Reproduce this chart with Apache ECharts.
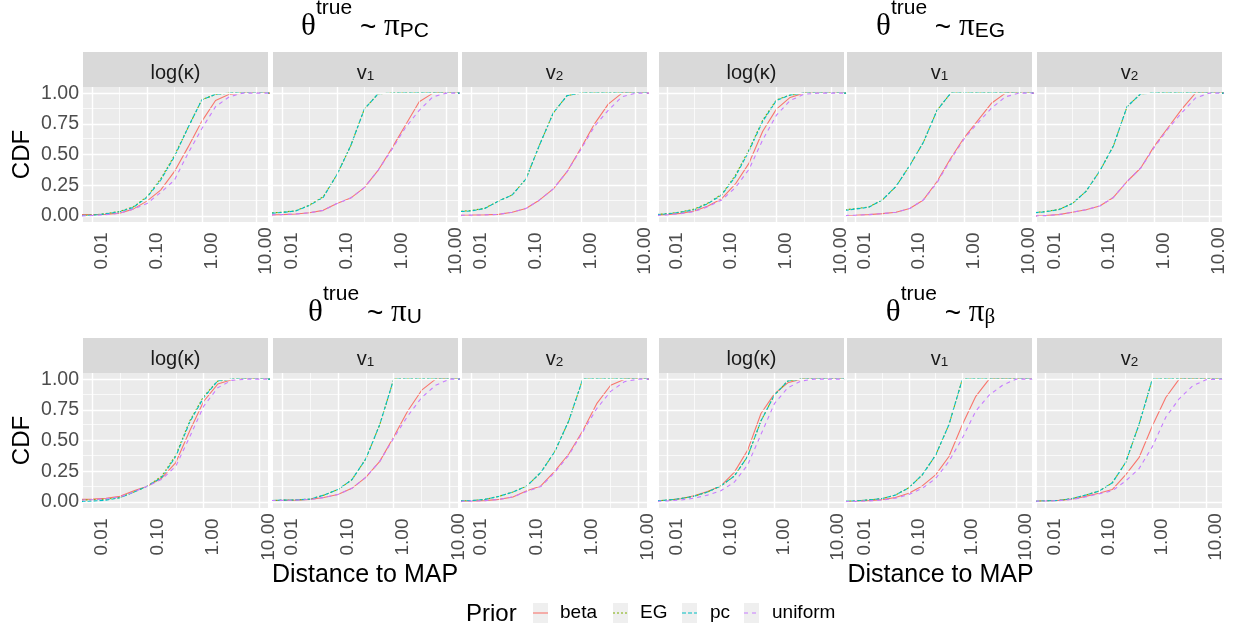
<!DOCTYPE html>
<html><head><meta charset="utf-8">
<script src="https://cdn.jsdelivr.net/npm/echarts@6/dist/echarts.min.js"></script>
<style>html,body{margin:0;padding:0;background:#fff}#c{width:1234px;height:628px}</style>
</head><body><div id="c"></div><script>
// ---- data: distance grid (x) and CDF values per panel / prior ----
const distance = [0.0065, 0.01, 0.0178, 0.0316, 0.0562, 0.1, 0.178, 0.316, 0.562, 1, 1.78, 3.16, 5.62, 10, 20];
const priors = ['beta', 'EG', 'pc', 'uniform'];
const paramLabels = ['log(κ)', 'v1', 'v2'];
const xTickValues = [0.01, 0.1, 1, 10];
const yTickValues = [0, 0.25, 0.5, 0.75, 1];

// theta_true ~ pi_PC
const truePC_logk_beta    = [0.01, 0.01, 0.012, 0.022, 0.055, 0.12, 0.21, 0.36, 0.56, 0.77, 0.94, 0.99, 1, 1, 1];
const truePC_logk_EG      = [0.003, 0.006, 0.018, 0.036, 0.072, 0.155, 0.30, 0.49, 0.72, 0.945, 0.99, 1, 1, 1, 1];
const truePC_logk_pc      = [0.003, 0.005, 0.016, 0.033, 0.068, 0.15, 0.29, 0.48, 0.72, 0.945, 0.99, 1, 1, 1, 1];
const truePC_logk_uniform = [0.0, 0.003, 0.01, 0.02, 0.055, 0.10, 0.19, 0.29, 0.51, 0.71, 0.89, 0.97, 1, 1, 1];
const truePC_v1_beta      = [0.008, 0.01, 0.015, 0.025, 0.045, 0.10, 0.145, 0.23, 0.37, 0.55, 0.74, 0.93, 1, 1, 1];
const truePC_v1_EG        = [0.025, 0.029, 0.042, 0.088, 0.155, 0.335, 0.57, 0.87, 0.995, 1, 1, 1, 1, 1, 1];
const truePC_v1_pc        = [0.022, 0.027, 0.04, 0.085, 0.15, 0.335, 0.57, 0.87, 0.995, 1, 1, 1, 1, 1, 1];
const truePC_v1_uniform   = [0.008, 0.01, 0.015, 0.025, 0.045, 0.10, 0.145, 0.23, 0.37, 0.54, 0.72, 0.86, 0.97, 1, 1];
const truePC_v2_beta      = [0.005, 0.006, 0.008, 0.012, 0.03, 0.06, 0.13, 0.22, 0.36, 0.55, 0.75, 0.91, 1, 1, 1];
const truePC_v2_EG        = [0.038, 0.043, 0.062, 0.12, 0.17, 0.30, 0.58, 0.84, 0.98, 1, 1, 1, 1, 1, 1];
const truePC_v2_pc        = [0.035, 0.04, 0.06, 0.12, 0.17, 0.30, 0.58, 0.84, 0.98, 1, 1, 1, 1, 1, 1];
const truePC_v2_uniform   = [0.005, 0.006, 0.008, 0.012, 0.03, 0.06, 0.13, 0.22, 0.36, 0.54, 0.73, 0.86, 0.97, 1, 1];

// theta_true ~ pi_EG
const trueEG_logk_beta    = [0.005, 0.01, 0.02, 0.04, 0.08, 0.14, 0.26, 0.43, 0.69, 0.87, 0.965, 1, 1, 1, 1];
const trueEG_logk_EG      = [0.012, 0.018, 0.032, 0.055, 0.105, 0.175, 0.33, 0.54, 0.78, 0.945, 0.985, 1, 1, 1, 1];
const trueEG_logk_pc      = [0.01, 0.016, 0.03, 0.05, 0.10, 0.17, 0.32, 0.53, 0.77, 0.94, 0.985, 1, 1, 1, 1];
const trueEG_logk_uniform = [0.003, 0.008, 0.018, 0.035, 0.075, 0.13, 0.23, 0.38, 0.62, 0.82, 0.94, 0.99, 1, 1, 1];
const trueEG_v1_beta      = [0.003, 0.005, 0.01, 0.018, 0.03, 0.06, 0.13, 0.28, 0.47, 0.64, 0.78, 0.92, 1, 1, 1];
const trueEG_v1_EG        = [0.05, 0.058, 0.072, 0.13, 0.24, 0.41, 0.60, 0.86, 1, 1, 1, 1, 1, 1, 1];
const trueEG_v1_pc        = [0.045, 0.055, 0.07, 0.13, 0.24, 0.41, 0.60, 0.86, 1, 1, 1, 1, 1, 1, 1];
const trueEG_v1_uniform   = [0.003, 0.005, 0.01, 0.018, 0.03, 0.06, 0.13, 0.27, 0.46, 0.63, 0.76, 0.88, 0.97, 1, 1];
const trueEG_v2_beta      = [0.0, 0.002, 0.01, 0.03, 0.05, 0.08, 0.15, 0.28, 0.39, 0.57, 0.72, 0.87, 1, 1, 1];
const trueEG_v2_EG        = [0.027, 0.035, 0.052, 0.10, 0.20, 0.365, 0.57, 0.89, 0.995, 1, 1, 1, 1, 1, 1];
const trueEG_v2_pc        = [0.025, 0.033, 0.05, 0.10, 0.20, 0.365, 0.57, 0.89, 0.995, 1, 1, 1, 1, 1, 1];
const trueEG_v2_uniform   = [0.0, 0.002, 0.01, 0.03, 0.05, 0.08, 0.15, 0.28, 0.39, 0.56, 0.71, 0.84, 0.96, 1, 1];

// theta_true ~ pi_U
const trueU_logk_beta     = [0.02, 0.022, 0.03, 0.045, 0.09, 0.13, 0.195, 0.32, 0.58, 0.82, 0.96, 0.995, 1, 1, 1];
const trueU_logk_EG       = [0.015, 0.017, 0.022, 0.035, 0.08, 0.13, 0.21, 0.38, 0.66, 0.86, 0.985, 1, 1, 1, 1];
const trueU_logk_pc       = [0.003, 0.005, 0.014, 0.033, 0.08, 0.13, 0.20, 0.37, 0.65, 0.85, 0.986, 1, 1, 1, 1];
const trueU_logk_uniform  = [0.015, 0.017, 0.025, 0.04, 0.08, 0.13, 0.185, 0.29, 0.53, 0.78, 0.93, 0.99, 1, 1, 1];
const trueU_v1_beta       = [0.011, 0.012, 0.014, 0.02, 0.035, 0.06, 0.11, 0.20, 0.33, 0.53, 0.74, 0.91, 1, 1, 1];
const trueU_v1_EG         = [0.011, 0.014, 0.016, 0.022, 0.055, 0.10, 0.18, 0.35, 0.63, 1, 1, 1, 1, 1, 1];
const trueU_v1_pc         = [0.011, 0.014, 0.016, 0.022, 0.055, 0.10, 0.18, 0.35, 0.63, 1, 1, 1, 1, 1, 1];
const trueU_v1_uniform    = [0.011, 0.012, 0.014, 0.02, 0.035, 0.06, 0.11, 0.20, 0.33, 0.52, 0.70, 0.85, 0.95, 1, 1];
const trueU_v2_beta       = [0.005, 0.006, 0.01, 0.02, 0.04, 0.09, 0.13, 0.25, 0.39, 0.58, 0.80, 0.95, 1, 1, 1];
const trueU_v2_EG         = [0.008, 0.01, 0.02, 0.045, 0.08, 0.13, 0.24, 0.41, 0.66, 1, 1, 1, 1, 1, 1];
const trueU_v2_pc         = [0.008, 0.01, 0.02, 0.045, 0.08, 0.13, 0.24, 0.41, 0.66, 1, 1, 1, 1, 1, 1];
const trueU_v2_uniform    = [0.005, 0.006, 0.01, 0.02, 0.04, 0.085, 0.125, 0.24, 0.38, 0.57, 0.76, 0.90, 0.98, 1, 1];

// theta_true ~ pi_beta
const trueB_logk_beta     = [0.01, 0.013, 0.025, 0.05, 0.085, 0.13, 0.24, 0.42, 0.72, 0.88, 0.97, 1, 1, 1, 1];
const trueB_logk_EG       = [0.01, 0.014, 0.027, 0.046, 0.08, 0.13, 0.21, 0.37, 0.66, 0.87, 0.985, 1, 1, 1, 1];
const trueB_logk_pc       = [0.01, 0.014, 0.027, 0.046, 0.08, 0.13, 0.21, 0.37, 0.66, 0.87, 0.985, 1, 1, 1, 1];
const trueB_logk_uniform  = [0.005, 0.008, 0.015, 0.03, 0.055, 0.09, 0.16, 0.30, 0.55, 0.80, 0.93, 0.985, 1, 1, 1];
const trueB_v1_beta       = [0.003, 0.005, 0.01, 0.018, 0.035, 0.07, 0.13, 0.22, 0.37, 0.63, 0.86, 1, 1, 1, 1];
const trueB_v1_EG         = [0.005, 0.008, 0.016, 0.027, 0.055, 0.115, 0.22, 0.38, 0.63, 1, 1, 1, 1, 1, 1];
const trueB_v1_pc         = [0.005, 0.008, 0.016, 0.027, 0.055, 0.115, 0.22, 0.38, 0.63, 1, 1, 1, 1, 1, 1];
const trueB_v1_uniform    = [0.003, 0.004, 0.008, 0.015, 0.03, 0.06, 0.11, 0.19, 0.33, 0.52, 0.74, 0.87, 0.95, 1, 1];
const trueB_v2_beta       = [0.005, 0.008, 0.012, 0.022, 0.045, 0.07, 0.10, 0.22, 0.36, 0.62, 0.85, 1, 1, 1, 1];
const trueB_v2_EG         = [0.005, 0.008, 0.011, 0.027, 0.055, 0.087, 0.155, 0.32, 0.63, 1, 1, 1, 1, 1, 1];
const trueB_v2_pc         = [0.005, 0.008, 0.011, 0.027, 0.055, 0.087, 0.155, 0.32, 0.63, 1, 1, 1, 1, 1, 1];
const trueB_v2_uniform    = [0.005, 0.007, 0.01, 0.02, 0.04, 0.065, 0.09, 0.17, 0.27, 0.45, 0.69, 0.84, 0.945, 0.995, 1];

// ---- styling / layout ----
const priorColors = {beta: '#F8766D', EG: '#7CAE00', pc: '#00BFC4', uniform: '#C77CFF'};
const priorDash = {beta: 'solid', EG: [2, 2], pc: [4, 2], uniform: [4, 4]};
const colLefts = [83, 273, 462, 659, 847, 1037];
const panelW = 185, panelH = 135, stripH = 35;
const rowTops = [87, 373];
const FONT = 'Liberation Sans, Arial, sans-serif';
const SERIF = 'Liberation Serif, serif';

const groups = [
  {name: 'PC', row: 0, col0: 0, xr: [-2.164, 1.206], sets: [
    [truePC_logk_beta, truePC_logk_EG, truePC_logk_pc, truePC_logk_uniform],
    [truePC_v1_beta, truePC_v1_EG, truePC_v1_pc, truePC_v1_uniform],
    [truePC_v2_beta, truePC_v2_EG, truePC_v2_pc, truePC_v2_uniform]]},
  {name: 'EG', row: 0, col0: 3, xr: [-2.146, 1.235], sets: [
    [trueEG_logk_beta, trueEG_logk_EG, trueEG_logk_pc, trueEG_logk_uniform],
    [trueEG_v1_beta, trueEG_v1_EG, trueEG_v1_pc, trueEG_v1_uniform],
    [trueEG_v2_beta, trueEG_v2_EG, trueEG_v2_pc, trueEG_v2_uniform]]},
  {name: 'U', row: 1, col0: 0, xr: [-2.161, 1.15], sets: [
    [trueU_logk_beta, trueU_logk_EG, trueU_logk_pc, trueU_logk_uniform],
    [trueU_v1_beta, trueU_v1_EG, trueU_v1_pc, trueU_v1_uniform],
    [trueU_v2_beta, trueU_v2_EG, trueU_v2_pc, trueU_v2_uniform]]},
  {name: 'β', row: 1, col0: 3, xr: [-2.155, 1.30], sets: [
    [trueB_logk_beta, trueB_logk_EG, trueB_logk_pc, trueB_logk_uniform],
    [trueB_v1_beta, trueB_v1_EG, trueB_v1_pc, trueB_v1_uniform],
    [trueB_v2_beta, trueB_v2_EG, trueB_v2_pc, trueB_v2_uniform]]}
];

const grids = [], xAxes = [], yAxes = [], series = [], graphics = [];
const xMajor = xTickValues.map(v => Math.log10(v));
const xMinor = [-1.5, -0.5, 0.5];
const yMinor = [0.125, 0.375, 0.625, 0.875];

let idx = 0;
groups.forEach(g => {
  g.sets.forEach((set, p) => {
    const left = colLefts[g.col0 + p], top = rowTops[g.row];
    const showY = (g.col0 === 0 && p === 0);
    grids.push({left: left, top: top, width: panelW, height: panelH, show: true,
      backgroundColor: '#EBEBEB', borderWidth: 0, containLabel: false});
    xAxes.push({type: 'value', gridIndex: idx, min: g.xr[0], max: g.xr[1],
      axisLine: {show: false}, splitLine: {show: false},
      axisTick: {show: true, customValues: xMajor, length: 4, lineStyle: {color: '#333333', width: 1}},
      axisLabel: {show: true, customValues: xMajor, rotate: 90, align: 'center', verticalAlign: 'top',
        margin: 29, color: '#4D4D4D', fontSize: 19, fontFamily: FONT,
        formatter: v => Math.pow(10, v).toFixed(2)}});
    yAxes.push({type: 'value', gridIndex: idx, min: -0.05, max: 1.05,
      axisLine: {show: false}, splitLine: {show: false},
      axisTick: {show: showY, customValues: yTickValues, length: 4, lineStyle: {color: '#333333', width: 1}},
      axisLabel: {show: showY, customValues: yTickValues, margin: 4, color: '#4D4D4D', fontSize: 19.5,
        fontFamily: FONT, formatter: v => v.toFixed(2)}});
    // grid lines (white, major + minor) drawn under the data
    const gl = [];
    xMinor.forEach(v => gl.push({xAxis: v, lineStyle: {width: 0.7}}));
    yMinor.forEach(v => gl.push({yAxis: v, lineStyle: {width: 0.7}}));
    xMajor.forEach(v => gl.push({xAxis: v, lineStyle: {width: 1.4}}));
    yTickValues.forEach(v => gl.push({yAxis: v, lineStyle: {width: 1.4}}));
    series.push({type: 'line', xAxisIndex: idx, yAxisIndex: idx, data: [], z: 1, silent: true,
      markLine: {silent: true, symbol: ['none', 'none'], animation: false, label: {show: false},
        lineStyle: {color: '#FFFFFF', type: 'solid'}, emphasis: {disabled: true}, data: gl}});
    set.forEach((arr, k) => {
      const pr = priors[k];
      series.push({type: 'line', name: pr, xAxisIndex: idx, yAxisIndex: idx, z: 2 + k,
        showSymbol: false, symbol: 'none', silent: true, clip: true,
        data: distance.map((d, i) => [Math.log10(d), arr[i]]),
        lineStyle: {color: priorColors[pr], width: 1.1, type: priorDash[pr]}});
    });
    // strip
    graphics.push({type: 'rect', shape: {x: left, y: top - stripH, width: panelW, height: stripH},
      style: {fill: '#D9D9D9'}, silent: true});
    const lab = paramLabels[p];
    const txt = lab === 'log(κ)' ? '{n|log(κ)}' : '{n|v}{s|' + lab.slice(1) + '}';
    graphics.push({type: 'text', silent: true, style: {x: left + panelW / 2, y: top - stripH / 2 + 1,
      align: 'center', verticalAlign: 'middle', text: txt,
      rich: {n: {fontSize: 20, fontFamily: FONT, fill: '#1A1A1A', lineHeight: 26, verticalAlign: 'bottom'},
             s: {fontSize: 13.5, fontFamily: FONT, fill: '#1A1A1A', lineHeight: 11, verticalAlign: 'bottom'}}}});
    idx++;
  });
  // group title
  const cx = (colLefts[g.col0] + colLefts[g.col0 + 2] + panelW) / 2;
  const ty = g.row === 0 ? -2 : 284;
  graphics.push({type: 'text', silent: true, style: {x: cx, y: ty, align: 'center', verticalAlign: 'top',
    text: '{th|θ}{sup|true}{m| ~ }{pi|π}{sub|' + g.name + '}',
    rich: {
      th: {fontSize: 31, fontFamily: SERIF, fill: '#000', lineHeight: 44, verticalAlign: 'bottom'},
      pi: {fontSize: 31, fontFamily: SERIF, fill: '#000', lineHeight: 44, verticalAlign: 'bottom'},
      m: {fontSize: 28, fontFamily: FONT, fill: '#000', lineHeight: 44, verticalAlign: 'bottom'},
      sup: {fontSize: 21, fontFamily: FONT, fill: '#000', lineHeight: 30, verticalAlign: 'top'},
      sub: {fontSize: 21, fontFamily: g.name === 'β' ? SERIF : FONT, fill: '#000', lineHeight: 28, verticalAlign: 'bottom'}
    }}});
  if (g.col0 === 0) {
    graphics.push({type: 'text', silent: true, rotation: Math.PI / 2, x: 22, y: rowTops[g.row] + panelH / 2,
      style: {x: 0, y: 0, text: 'CDF', align: 'center', verticalAlign: 'middle', fontSize: 24, fontFamily: FONT, fill: '#000'}});
  }
  if (g.row === 1) {
    graphics.push({type: 'text', silent: true, style: {x: cx, y: 575, text: 'Distance to MAP', align: 'center',
      verticalAlign: 'middle', fontSize: 25, fontFamily: FONT, fill: '#000'}});
  }
});

// legend
const legY = 613;
graphics.push({type: 'text', silent: true, style: {x: 466, y: legY + 1, text: 'Prior', align: 'left', verticalAlign: 'middle',
  fontSize: 24, fontFamily: FONT, fill: '#000'}});
const keyX = [533, 613, 682, 744], labX = [560, 640, 710, 772];
priors.forEach((pr, k) => {
  graphics.push({type: 'rect', silent: true, shape: {x: keyX[k], y: legY - 10, width: 15, height: 20}, style: {fill: '#EFEFEF'}});
  graphics.push({type: 'line', silent: true, shape: {x1: keyX[k], y1: legY, x2: keyX[k] + 15, y2: legY},
    style: {stroke: priorColors[pr], lineWidth: 1.1, lineDash: priorDash[pr] === 'solid' ? null : priorDash[pr]}});
  graphics.push({type: 'text', silent: true, style: {x: labX[k], y: legY, text: pr, align: 'left', verticalAlign: 'middle',
    fontSize: 19, fontFamily: FONT, fill: '#000'}});
});

const chart = echarts.init(document.getElementById('c'), null, {renderer: 'canvas'});
chart.setOption({animation: false, backgroundColor: '#FFFFFF', grid: grids, xAxis: xAxes, yAxis: yAxes,
  series: series, graphic: graphics});
</script></body></html>
